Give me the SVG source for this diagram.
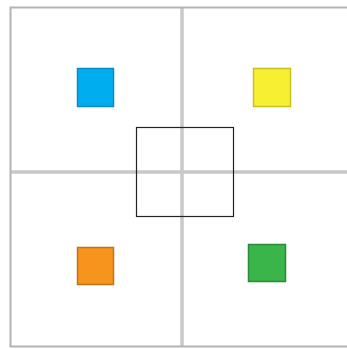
<svg xmlns="http://www.w3.org/2000/svg" width="347" height="349" viewBox="0 0 347 349">
<style>
.frame{fill:none;stroke:#b3b3b3;stroke-width:2}
.axis{stroke:#c8c8c8;stroke-width:3.5}
.sq{stroke-width:1.5}
</style>
<rect x="0" y="0" width="347" height="349" fill="#ffffff"/>
<g id="connectors">
<line class="axis" x1="182" y1="8" x2="182" y2="346"/>
<line class="axis" x1="11" y1="172" x2="347" y2="172"/>
</g>
<path class="frame" d="M350 7.5 H10.5 V346.5 H350"/>
<g id="center"><rect x="136.5" y="127.5" width="97" height="89" fill="none" stroke="#222" stroke-width="1.2"/></g>
<g id="blue"><rect class="sq" x="77.5" y="68.5" width="36" height="38" fill="#00aeef" stroke="#0a8cc0"/></g>
<g id="yellow"><rect class="sq" x="253.5" y="68.5" width="37" height="38" fill="#f7ef32" stroke="#c8c020"/></g>
<g id="orange"><rect class="sq" x="77.5" y="247.5" width="36" height="37" fill="#f7941d" stroke="#c0731a"/></g>
<g id="green"><rect class="sq" x="248.5" y="244.5" width="37" height="37" fill="#39b54a" stroke="#2a8a38"/></g>
</svg>
